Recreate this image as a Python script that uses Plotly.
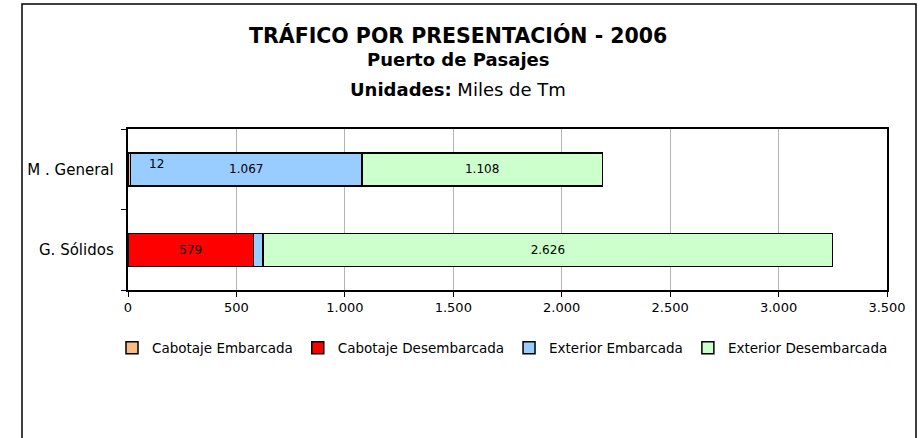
import plotly.graph_objects as go

categories = ["G. Sólidos", "M . General"]
series_names = ["Cabotaje Embarcada", "Cabotaje Desembarcada", "Exterior Embarcada", "Exterior Desembarcada"]
cab_emb = [None, 12]
cab_des = [579, None]
ext_emb = [44, 1067]
ext_des = [2626, 1108]
colors = ["#F9BC86", "#FF0000", "#99CCFF", "#CCFFCC"]
x_ticks = [0, 500, 1000, 1500, 2000, 2500, 3000, 3500]

def fmt(v):
    return "" if v is None else f"{v:,}".replace(",", ".")

# labels shown inside bars (small segments not labelled inside)
labels = [
    ["", ""],
    [fmt(cab_des[0]), ""],
    ["", fmt(ext_emb[1])],
    [fmt(ext_des[0]), fmt(ext_des[1])],
]

FONT = "DejaVu Sans"
fig = go.Figure()
for name, vals, col, txt in zip(series_names, [cab_emb, cab_des, ext_emb, ext_des], colors, labels):
    fig.add_trace(go.Bar(
        y=categories, x=vals, name=name, orientation="h",
        marker=dict(color=col, line=dict(color="black", width=1.5)),
        text=txt, textposition="inside", insidetextanchor="middle",
        textangle=0, constraintext="none",
        textfont=dict(family=FONT, size=12, color="black"),
        hoverinfo="x+name",
    ))

L, R, T, B = 128, 36, 129, 148
W, H = 923, 438
pw, ph = W - L - R, H - T - B

def px_x(p):
    return (p - L) / pw

def px_y(p):
    return (H - B - p) / ph

fig.update_layout(
    width=W, height=H,
    margin=dict(l=L, r=R, t=T, b=B, pad=0),
    paper_bgcolor="white", plot_bgcolor="white",
    barmode="stack", bargap=0.59,
    separators=",.",
    showlegend=True,
    legend=dict(orientation="h", x=px_x(112), xanchor="left", y=px_y(348), yanchor="middle",
                font=dict(family=FONT, size=13.5, color="black"), traceorder="normal",
                itemwidth=30, bgcolor="rgba(0,0,0,0)"),
    font=dict(family=FONT, color="black"),
    xaxis=dict(range=[0, 3500], tickvals=x_ticks, tickformat=",d",
               showgrid=True, gridcolor="#B4B4B4", gridwidth=1,
               ticks="outside", ticklen=5, tickcolor="black", tickwidth=1,
               showline=True, linecolor="black", linewidth=1.5, mirror=True,
               zeroline=False, tickfont=dict(family=FONT, size=13, color="black")),
    yaxis=dict(categoryorder="array", categoryarray=categories,
               tickson="boundaries", ticks="outside", ticklen=5, tickcolor="black",
               showline=True, linecolor="black", linewidth=1.5, mirror=True,
               showgrid=False, ticksuffix="  ",
               tickfont=dict(family=FONT, size=15, color="black")),
    shapes=[dict(type="rect", xref="paper", yref="paper",
                 x0=px_x(22), x1=px_x(916), y0=px_y(445), y1=px_y(4),
                 line=dict(color="black", width=1.5), fillcolor="rgba(0,0,0,0)", layer="below")],
    annotations=[
        dict(xref="paper", yref="paper", x=px_x(458), y=px_y(36), showarrow=False,
             text="<b>TRÁFICO POR PRESENTACIÓN - 2006</b>", font=dict(family=FONT, size=20.5, color="black"),
             xanchor="center", yanchor="middle"),
        dict(xref="paper", yref="paper", x=px_x(458), y=px_y(59), showarrow=False,
             text="<b>Puerto de Pasajes</b>", font=dict(family=FONT, size=18, color="black"),
             xanchor="center", yanchor="middle"),
        dict(xref="paper", yref="paper", x=px_x(458), y=px_y(89), showarrow=False,
             text="<b>Unidades:</b> Miles de Tm", font=dict(family=FONT, size=18, color="black"),
             xanchor="center", yanchor="middle"),
        dict(xref="x", yref="y", x=cab_emb[1], y=categories[1], showarrow=False,
             text=fmt(cab_emb[1]), font=dict(family=FONT, size=12, color="black"),
             xanchor="left", yanchor="middle", xshift=16, yshift=5),
    ],
)

fig.write_html("out.html", config={"displayModeBar": False},
               post_script="document.body.style.margin='0';document.body.style.padding='0';")
